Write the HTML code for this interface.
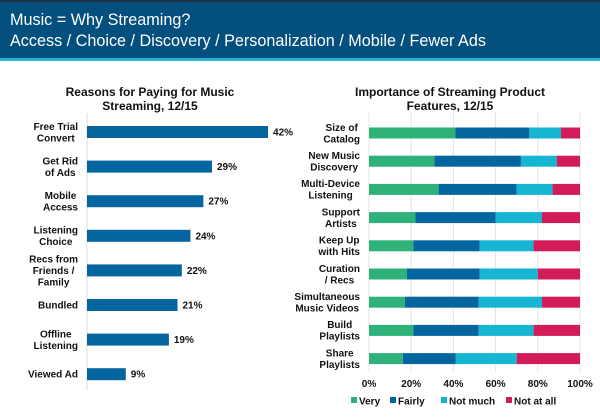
<!DOCTYPE html>
<html><head><meta charset="utf-8"><style>
body{margin:0;width:600px;height:417px;background:#fff;font-family:"Liberation Sans",sans-serif;overflow:hidden;position:relative}
#hdr{position:absolute;left:0;top:0;width:600px;height:58px;background:#034f7d;border-top:2px solid #1f3347;box-sizing:border-box}
#hdr div{color:#fff;font-size:16.2px;line-height:20px;position:absolute;left:10px}
#cy{position:absolute;left:0;top:58px;width:600px;height:3px;background:#27b8d6}
.t{position:absolute;font-weight:bold;font-size:12px;text-align:center;line-height:14px;color:#111}
svg text{font-family:"Liberation Sans",sans-serif;font-weight:bold;font-size:10px;fill:#111}
</style></head><body>
<div id="hdr"><div style="top:8px">Music = Why Streaming?</div><div style="top:29px">Access / Choice / Discovery / Personalization / Mobile / Fewer Ads</div></div>
<div id="cy"></div>
<div class="t" style="left:40px;top:85px;width:220px">Reasons for Paying for Music<br>Streaming, 12/15</div>
<div class="t" style="left:330px;top:85px;width:240px">Importance of Streaming Product<br>Features, 12/15</div>
<svg id="c" width="600" height="417" style="position:absolute;left:0;top:0"></svg>
<script>
const leftCats=[["Free Trial","Convert"],["Get Rid","of Ads"],["Mobile","Access"],["Listening","Choice"],["Recs from","Friends /","Family"],["Bundled"],["Offline","Listening"],["Viewed Ad"]];
const leftVals=[42,29,27,24,22,21,19,9];
const rightCats=[["Size of","Catalog"],["New Music","Discovery"],["Multi-Device","Listening"],["Support","Artists"],["Keep Up","with Hits"],["Curation","/ Recs"],["Simultaneous","Music Videos"],["Build","Playlists"],["Share","Playlists"]];
const very=[41,31,33,22,21,18,17,21,16];
const fairly=[35,41,37,38,31.5,34.5,35,31,25];
const notMuch=[15,17,17,22,25.5,27.5,30,26,29];
const notAtAll=[9,11,13,18,22,20,18,22,30];
const seriesNames=["Very","Fairly","Not much","Not at all"];
const xTicks=[0,20,40,60,80,100];
const colors=["#2eb27a","#05669f","#16b6d2","#d21c5a"];
const svg=document.getElementById('c');const NS="http://www.w3.org/2000/svg";
function mk(t,a,p){const e=document.createElementNS(NS,t);for(const k in a)e.setAttribute(k,a[k]);(p||svg).appendChild(e);return e;}
function lines(g,x,yc,arr){const lh=11.5;const y0=yc-(arr.length-1)*lh/2+3.5;
 const ts=arr.map((s,i)=>{const t=mk('text',{x:x,y:y0+i*lh,'text-anchor':'middle'},g);t.textContent=s;return t;});
 const w=Math.max(...ts.map(t=>t.getComputedTextLength()));
 ts.forEach(t=>t.setAttribute('x',x-w/2));}
// left
const lx=v=>87+v*4.31, ly=i=>132+i*34.6;
const ax=mk('line',{x1:87,y1:113,x2:87,y2:390,stroke:'#ddd','stroke-width':1});

leftVals.forEach((v,i)=>{
 const r=mk('rect',{x:lx(0),y:ly(i)-6,width:lx(v)-lx(0),height:12,fill:'#05669f'});
 
 
 const g=mk('g',{});
 lines(g,78,ly(i),leftCats[i]);
 const t=mk('text',{x:lx(v)+5,y:ly(i)+3.5});t.textContent=v+'%';
 
});
// right
const rx=v=>369+v*2.11, ry=i=>133+i*28.2;
xTicks.forEach(v=>{const l=mk('line',{x1:rx(v),y1:113,x2:rx(v),y2:372,stroke:'#e4e4e4','stroke-width':1});
 
 const t=mk('text',{x:rx(v),y:387,'text-anchor':'middle'});t.textContent=v+'%';
 });
const series=[very,fairly,notMuch,notAtAll];
rightCats.forEach((c,i)=>{let acc=0;
 series.forEach((s,k)=>{const r=mk('rect',{x:rx(acc),y:ry(i)-5.5,width:rx(acc+s[i])-rx(acc),height:11,fill:colors[k]});
  
  acc+=s[i];});
 const g=mk('g',{});
 lines(g,360,ry(i),c);
});
// legend
const lgx=[351,390,441,506];
seriesNames.forEach((n,k)=>{const g=mk('g',{});
 mk('rect',{x:lgx[k],y:397,width:6,height:6,fill:colors[k]},g);
 const t=mk('text',{x:lgx[k]+8,y:404.5},g);t.textContent=n;});
</script>
</body></html>
